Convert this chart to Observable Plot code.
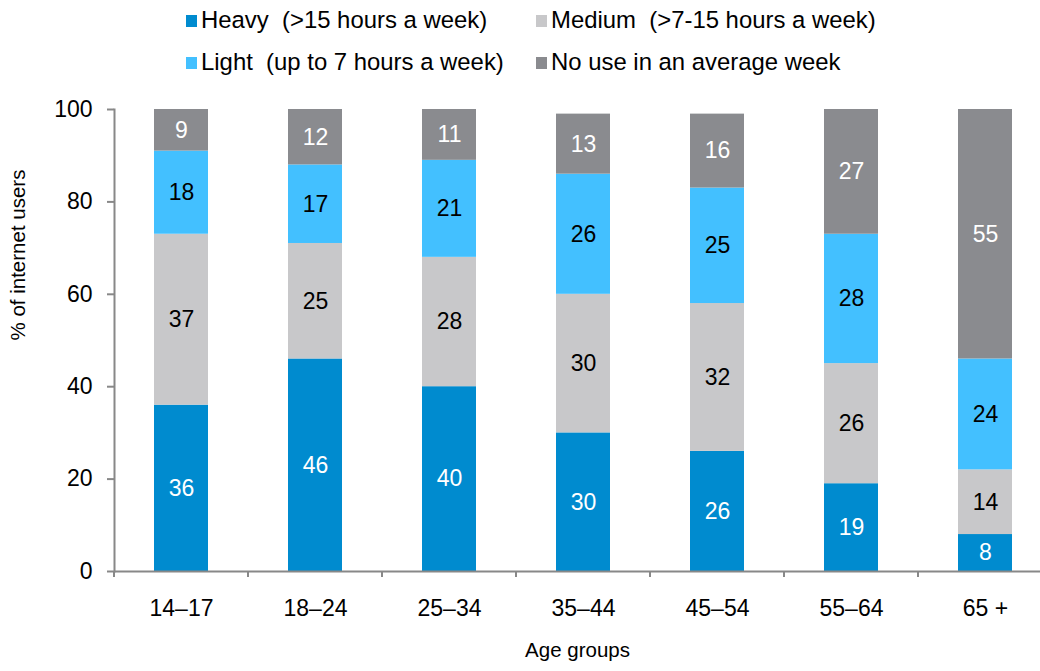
<!DOCTYPE html>
<html><head><meta charset="utf-8">
<script src="https://cdn.jsdelivr.net/npm/d3@7"></script>
<script src="https://cdn.jsdelivr.net/npm/@observablehq/plot@0.6"></script>
<style>
body{margin:0;background:#fff;font-family:"Liberation Sans",Arial,sans-serif;overflow:hidden;width:1040px;height:671px;}
#legend{position:relative;height:90px;width:1040px;}
.li{position:absolute;font-size:23.9px;color:#000;white-space:pre;line-height:26px;}
.sw{display:inline-block;width:11px;height:12px;margin-right:4px;vertical-align:1px;}
svg{overflow:hidden;display:block;}
</style></head><body>
<div id="legend"></div>
<div id="chart"></div>
<script>
const ageGroups = ["14–17","18–24","25–34","35–44","45–54","55–64","65 +"];
const seriesNames = ["Heavy","Medium","Light","No use"];
const legendLabels = ["Heavy  (>15 hours a week)","Medium  (>7-15 hours a week)","Light  (up to 7 hours a week)","No use in an average week"];
const heavy  = [36,46,40,30,26,19,8];
const medium = [37,25,28,30,32,26,14];
const light  = [18,17,21,26,25,28,24];
const noUse  = [9,12,11,13,16,27,55];
const yTicks = [0,20,40,60,80,100];
const colors = ["#008BCF","#C8C8CA","#43C0FF","#8A8B8F"];
const labelColors = ["#fff","#000","#000","#fff"];

const seriesValues = [heavy, medium, light, noUse];
const rows = [];
ageGroups.forEach((g,i)=>{
  let base=0;
  seriesValues.forEach((vals,s)=>{
    rows.push({age:g, series:seriesNames[s], value:vals[i], y1:base, y2:base+vals[i], lc:labelColors[s]});
    base+=vals[i];
  });
});

// legend (Heavy, Medium on row 1; Light, No use on row 2)
const legendPos = [[186,7],[536,7],[186,49],[536,49]];
const leg = document.getElementById("legend");
seriesNames.forEach((n,s)=>{
  const p = legendPos[s];
  const d = document.createElement("div");
  d.className="li";
  d.style.left=p[0]+"px"; d.style.top=p[1]+"px";
  d.innerHTML = `<span class="sw" style="background:${colors[s]}"></span>${legendLabels[s]}`;
  leg.appendChild(d);
});

const boundaryTicks = (index, scales) => {
  const x = scales.x, y = scales.y;
  const pad = (x.step() - x.bandwidth())/2;
  const g = d3.create("svg:g");
  ageGroups.forEach(a=>{
    const bx = x(a) - pad;
    g.append("line").attr("x1",bx).attr("x2",bx).attr("y1",y(0)).attr("y2",y(0)+6)
      .attr("stroke","#888").attr("stroke-width",2);
  });
  return g.node();
};

const chart = Plot.plot({
  width:1040, height:581,
  marginLeft:114, marginRight:0, marginTop:19, marginBottom:100,
  style:{fontFamily:"Liberation Sans, Arial, sans-serif", background:"#fff", overflow:"hidden"},
  x:{domain:ageGroups, range:[114,1052], paddingInner:0.6, paddingOuter:0.3, align:0.5},
  y:{domain:[0,100]},
  color:{domain:seriesNames, range:colors},
  marks:[
    Plot.rectY(rows,{x:"age", y1:"y1", y2:"y2", fill:"series", clip:true}),
    Plot.text(rows,{x:"age", y:d=>(d.y1+Math.min(d.y2,100))/2, text:d=>String(d.value), fill:"lc", fontSize:23}),
    Plot.ruleY([0],{stroke:"#888", strokeWidth:2}),
    Plot.frame({anchor:"left", stroke:"#888", strokeWidth:2}),
    Plot.axisY(yTicks,{ticks:yTicks, tickSize:7, tickPadding:15, fontSize:23, fill:"#000", stroke:"#888", strokeWidth:2, label:null}),
    Plot.axisX({tickSize:0, tickPadding:28, fontSize:23, fill:"#000", label:null}),
    Plot.text(["% of internet users"],{frameAnchor:"left", dx:-96, rotate:-90, fontSize:20.5, fill:"#000"}),
    Plot.text(["Age groups"],{frameAnchor:"bottom", dy:85, fontSize:20.5, fill:"#000"}),
    boundaryTicks
  ]
});
document.getElementById("chart").appendChild(chart);
</script>
</body></html>
